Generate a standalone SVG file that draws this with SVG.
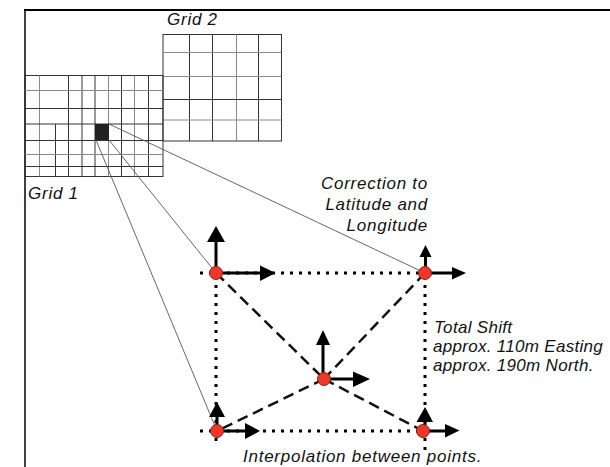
<svg xmlns="http://www.w3.org/2000/svg" width="610" height="467" viewBox="0 0 610 467">
<style>
.t{font-family:"Liberation Sans",Arial,sans-serif;font-style:italic;font-size:17px;fill:#111;letter-spacing:0.75px}
.t2{letter-spacing:0.3px}
.dk{stroke:#333;stroke-width:1;fill:none}
.gy{stroke:#8a8a8a;stroke-width:1;fill:none}
.thin{stroke:#555;stroke-width:0.9;fill:none}
.dot{stroke:#000;stroke-width:3;stroke-dasharray:3 6;fill:none}
.dash{stroke:#111;stroke-width:2.5;stroke-dasharray:11 6;fill:none}
.shaft{stroke:#000;stroke-width:3;fill:none}
.head{fill:#000}
.pt{fill:#e8392c;stroke:#9a1e12;stroke-width:1}
</style>
<rect width="610" height="467" fill="#fff"/>
<g id="frame">
<line x1="24" y1="10" x2="610" y2="10" stroke="#000" stroke-width="2"/>
<line x1="25" y1="9" x2="25" y2="467" stroke="#000" stroke-width="1.5"/>
</g>
<g id="grid2">
<rect x="163" y="34.5" width="118.5" height="106.5" class="dk"/>
<line x1="189.5" y1="34.5" x2="189.5" y2="141" class="dk"/>
<line x1="212.5" y1="34.5" x2="212.5" y2="141" class="dk"/>
<line x1="236.5" y1="34.5" x2="236.5" y2="141" class="gy"/>
<line x1="258.5" y1="34.5" x2="258.5" y2="141" class="dk"/>
<line x1="163" y1="52.5" x2="281.5" y2="52.5" class="gy"/>
<line x1="163" y1="76.5" x2="281.5" y2="76.5" class="gy"/>
<line x1="163" y1="99.5" x2="281.5" y2="99.5" class="dk"/>
<line x1="163" y1="120" x2="281.5" y2="120" class="gy"/>
<text class="t" x="167" y="25">Grid 2</text>
</g>
<g id="grid1">
<rect x="25" y="75.5" width="138" height="101" class="dk"/>
<line x1="39.5" y1="75.5" x2="39.5" y2="176.5" class="gy"/>
<line x1="55.5" y1="124" x2="55.5" y2="176.5" class="dk"/>
<line x1="68.5" y1="75.5" x2="68.5" y2="176.5" class="dk"/>
<line x1="82" y1="75.5" x2="82" y2="176.5" class="dk"/>
<line x1="95" y1="75.5" x2="95" y2="176.5" class="dk"/>
<line x1="108.5" y1="75.5" x2="108.5" y2="176.5" class="gy"/>
<line x1="121.5" y1="75.5" x2="121.5" y2="176.5" class="dk"/>
<line x1="134.5" y1="75.5" x2="134.5" y2="176.5" class="gy"/>
<line x1="148.5" y1="75.5" x2="148.5" y2="176.5" class="dk"/>
<line x1="25" y1="90.5" x2="163" y2="90.5" class="gy"/>
<line x1="25" y1="108.5" x2="163" y2="108.5" class="dk"/>
<line x1="25" y1="124" x2="163" y2="124" class="dk"/>
<line x1="25" y1="140.5" x2="163" y2="140.5" class="dk"/>
<line x1="25" y1="154.5" x2="163" y2="154.5" class="gy"/>
<line x1="25" y1="166.5" x2="163" y2="166.5" class="dk"/>
<rect id="cell" x="95" y="124" width="14" height="16" fill="#222"/>
<text class="t" x="28" y="199">Grid 1</text>
</g>
<g id="connectors">
<line x1="109" y1="124" x2="425" y2="273" class="thin"/>
<line x1="109" y1="140" x2="216" y2="273" class="thin"/>
<line x1="96" y1="140" x2="217" y2="431" class="thin"/>
<line x1="200" y1="273" x2="425" y2="273" class="dot"/>
<line x1="200" y1="431" x2="423" y2="431" class="dot"/>
<line x1="216" y1="276" x2="216" y2="441" class="dot"/>
<line x1="425" y1="276" x2="425" y2="452" class="dot"/>
<line x1="216" y1="273" x2="324" y2="379" class="dash"/>
<line x1="425" y1="273" x2="324" y2="379" class="dash"/>
<line x1="324" y1="379" x2="217" y2="431" class="dash"/>
<line x1="324" y1="379" x2="423" y2="431" class="dash"/>
</g>
<g id="node-tl">
<path d="M216 273V241M216 273H261" class="shaft"/>
<path d="M207 242H225L216 226Z" class="head"/>
<path d="M260 265.5V281L275.5 273Z" class="head"/>
<circle cx="216" cy="273" r="6.5" class="pt"/>
</g>
<g id="node-tr">
<path d="M425.5 273V256M425 273H453" class="shaft"/>
<path d="M419.5 257H431.5L425.5 245Z" class="head"/>
<path d="M452 267V279.5L466 273Z" class="head"/>
<circle cx="425" cy="273" r="6.5" class="pt"/>
</g>
<g id="node-m">
<path d="M323 379V344M324 379H354" class="shaft"/>
<path d="M316 345H330L323 330Z" class="head"/>
<path d="M353 371.5V387L370 379Z" class="head"/>
<circle cx="324" cy="379" r="6.5" class="pt"/>
</g>
<g id="node-bl">
<path d="M217 431V416M217 431H246" class="shaft"/>
<path d="M209 417H225L217 402Z" class="head"/>
<path d="M245 423V439L260 431Z" class="head"/>
<circle cx="217" cy="431" r="6.5" class="pt"/>
</g>
<g id="node-br">
<path d="M425 431V421M423 431H446" class="shaft"/>
<path d="M416.5 422H433L425 407Z" class="head"/>
<path d="M445 424V437.5L459.5 430.5Z" class="head"/>
<circle cx="423" cy="431" r="6.5" class="pt"/>
</g>
<g id="labels">
<text class="t" text-anchor="end" x="428" y="188.5">Correction to</text>
<text class="t" text-anchor="end" x="428" y="210">Latitude and</text>
<text class="t" text-anchor="end" x="428" y="231">Longitude</text>
<text class="t t2" x="434" y="333">Total Shift</text>
<text class="t t2" x="433" y="352">approx. 110m Easting</text>
<text class="t t2" x="433" y="371">approx. 190m North.</text>
<text class="t" x="243" y="462">Interpolation between points.</text>
</g>
</svg>
